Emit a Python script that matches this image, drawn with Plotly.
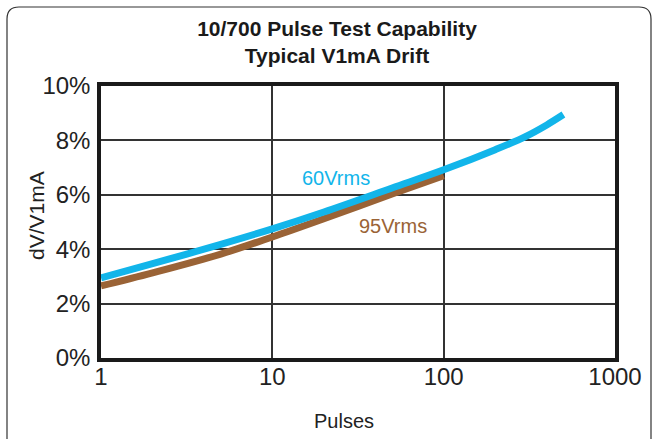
import plotly.graph_objects as go

# Data
pulses_60 = [1, 2, 5, 10, 20, 50, 100, 200, 300, 400, 500]
drift_60 = [2.95, 3.47, 4.18, 4.75, 5.37, 6.25, 6.92, 7.66, 8.14, 8.57, 8.95]
pulses_95 = [1, 2, 5, 10, 20, 50, 100]
drift_95 = [2.65, 3.13, 3.82, 4.45, 5.12, 6.03, 6.70]
y_ticks = [0, 2, 4, 6, 8, 10]
x_ticks = [1, 10, 100, 1000]

BLUE = "#12B5EA"
BROWN = "#9A6336"
FONT = "Liberation Sans, Arial, sans-serif"
TXT = "#222222"

fig = go.Figure()
fig.add_trace(go.Scatter(x=pulses_95, y=drift_95, mode="lines",
                         line=dict(color=BROWN, width=7, shape="spline", smoothing=1.0),
                         showlegend=False, name="95Vrms"))
fig.add_trace(go.Scatter(x=pulses_60, y=drift_60, mode="lines",
                         line=dict(color=BLUE, width=7, shape="spline", smoothing=1.0),
                         showlegend=False, name="60Vrms"))

L, R, T, B = 101, 44, 86, 81
W, H = 659, 439
pw, ph = W - L - R, H - T - B

def px(x):
    return (x - L) / pw

def py(y):
    return (H - B - y) / ph

# outer rounded frame
x0, x1 = px(7), px(651)
y0, y1 = py(7), py(470)
r = 12
rx, ry = r / pw, r / ph
path = (f"M {x0+rx},{y0} L {x1-rx},{y0} Q {x1},{y0} {x1},{y0-ry} "
        f"L {x1},{y1} L {x0},{y1} L {x0},{y0-ry} Q {x0},{y0} {x0+rx},{y0} Z")
fig.add_shape(type="path", path=path, xref="paper", yref="paper",
              line=dict(color="#333333", width=1.2), fillcolor="rgba(0,0,0,0)",
              layer="below")

def label(x, y, text, size, color, angle=0):
    fig.add_annotation(x=px(x), y=py(y), xref="paper", yref="paper",
                       xanchor="center", yanchor="middle",
                       text=text, showarrow=False, textangle=angle,
                       font=dict(family=FONT, size=size, color=color))

label(336, 178, "60Vrms", 20, BLUE)
label(393, 226, "95Vrms", 20, BROWN)
label(344, 421, "Pulses", 20, TXT)
label(36, 216, "dV/V1mA", 21, TXT, -90)

fig.update_layout(
    width=W, height=H,
    margin=dict(l=L, r=R, t=T, b=B, autoexpand=False),
    paper_bgcolor="white", plot_bgcolor="white",
    title=dict(text="<b>10/700 Pulse Test Capability<br>Typical V1mA Drift</b>",
               x=337 / W, xanchor="center", y=1 - 36 / H, yanchor="middle",
               font=dict(family=FONT, size=21, color="#1a1a1a")),
    font=dict(family=FONT, color=TXT),
)
fig.update_xaxes(type="log", range=[0, 3], tickvals=x_ticks,
                 ticktext=[str(v) for v in x_ticks], automargin=False,
                 showgrid=True, gridcolor="#333333", gridwidth=1.5,
                 showline=True, linecolor="#1a1a1a", linewidth=3.5, mirror=True,
                 ticks="", ticklabelstandoff=-6,
                 tickfont=dict(family=FONT, size=24, color=TXT),
                 zeroline=False)
fig.update_yaxes(range=[0, 10], tickvals=y_ticks,
                 ticktext=[f"{v}%" for v in y_ticks], automargin=False,
                 showgrid=True, gridcolor="#333333", gridwidth=1.5,
                 showline=True, linecolor="#1a1a1a", linewidth=3.5, mirror=True,
                 ticks="", ticklabelstandoff=2,
                 tickfont=dict(family=FONT, size=24, color=TXT),
                 zeroline=False)

fig.write_html("out.html", config={"displayModeBar": False},
               post_script="document.body.style.margin='0px';")
